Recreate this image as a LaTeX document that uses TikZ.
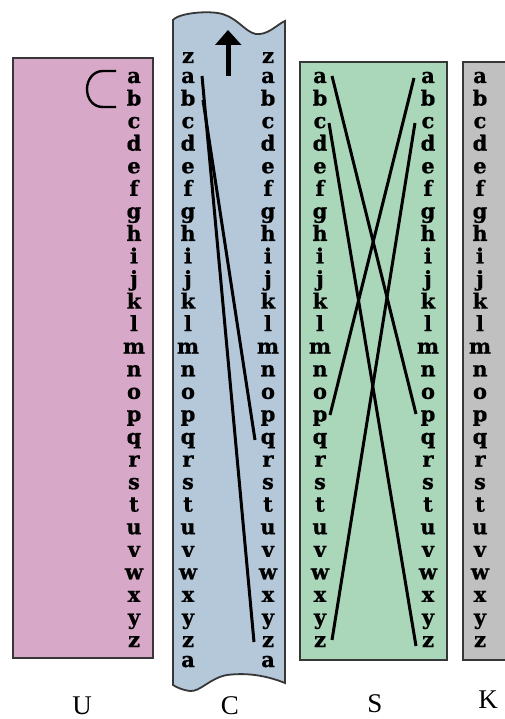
\documentclass[tikz,border=0pt]{standalone}
\usepackage{fontspec}
\usetikzlibrary{arrows.meta}
\setmainfont{Liberation Serif}
\newfontfamily\letterfont[FakeBold=0.8]{DejaVu Serif Bold}
\definecolor{ufill}{RGB}{216,168,200}
\definecolor{cfill}{RGB}{180,200,218}
\definecolor{sfill}{RGB}{170,214,186}
\definecolor{kfill}{RGB}{192,192,192}
\definecolor{edge}{RGB}{55,55,55}
\begin{document}
\begin{tikzpicture}[x=1pt,y=-1pt,
  box/.style={draw=edge, line width=1.8pt},
  ltr/.style={font=\letterfont\fontsize{21}{21}\selectfont, anchor=base, inner sep=0pt},
  wire/.style={line width=3pt, black},
  lbl/.style={font=\fontsize{27}{27}\selectfont, anchor=base, inner sep=0pt}]
\useasboundingbox (0,0) rectangle (505,719);

% strips
\path[box, fill=ufill] (13,58) rectangle (153,658);
\path[box, fill=cfill] (173,20) .. controls (180,12) and (215,10) .. (225,15)
   .. controls (240,20) and (248,36) .. (260,34)
   .. controls (270,33) and (278,24) .. (285,21)
   -- (285,683)
   .. controls (270,677) and (250,672) .. (227,675)
   .. controls (210,678) and (200,692) .. (190,691)
   .. controls (182,690) and (176,687) .. (173,685) -- cycle;
\path[box, fill=sfill] (300,62) rectangle (447,660);
\path[box, fill=kfill] (463,62) rectangle (512,660);

% letters
\foreach \ch [count=\i from 0] in {a,...,z} {
  \node[ltr] (u\ch) at (134, 83+22.56*\i) {\ch};
  \node[ltr] (cl\ch) at (188, 83+22.56*\i) {\ch};
  \node[ltr] (cr\ch) at (268, 83+22.56*\i) {\ch};
  \node[ltr] (sl\ch) at (320, 83+22.56*\i) {\ch};
  \node[ltr] (sr\ch) at (428, 83+22.56*\i) {\ch};
  \node[ltr] (k\ch) at (480, 83+22.56*\i) {\ch};
}
\node[ltr] (cltop) at (188,63) {z};
\node[ltr] (crtop) at (268,63) {z};
\node[ltr] (clbot) at (188,667) {a};
\node[ltr] (crbot) at (268,667) {a};

% hook in U
\coordinate (h1) at (116,71);
\coordinate (h2) at (116,107);
\draw[line width=2.4pt] (h1) -- (103,71) .. controls (93,71) and (87,80) .. (87,89)
   .. controls (87,99) and (93,107) .. (103,107) -- (h2);

% arrow in C
\coordinate (ar0) at (228,76);
\coordinate (ar1) at (228,30);
\fill (226,76) rectangle (230.5,44);
\fill (ar1) -- (241.5,45) -- (215,45) -- cycle;

% wires in C
\coordinate (c1) at (202,76);
\coordinate (c2) at (254,642);
\coordinate (c3) at (203,100);
\coordinate (c4) at (255,440);
\draw[wire] (c1) -- (c2);
\draw[wire] (c3) -- (c4);

% wires in S
\coordinate (s1) at (332,76);
\coordinate (s2) at (416,414);
\coordinate (s3) at (329,123);
\coordinate (s4) at (416,646);
\coordinate (s5) at (414,78);
\coordinate (s6) at (330,415);
\coordinate (s7) at (415,123);
\coordinate (s8) at (332,640);
\draw[wire] (s1) -- (s2);
\draw[wire] (s3) -- (s4);
\draw[wire] (s5) -- (s6);
\draw[wire] (s7) -- (s8);

% labels
\node[lbl] (lu) at (82,714) {U};
\node[lbl] (lc) at (230,714) {C};
\node[lbl] (ls) at (375,712) {S};
\node[lbl] (lk) at (488,708) {K};
\end{tikzpicture}
\end{document}
